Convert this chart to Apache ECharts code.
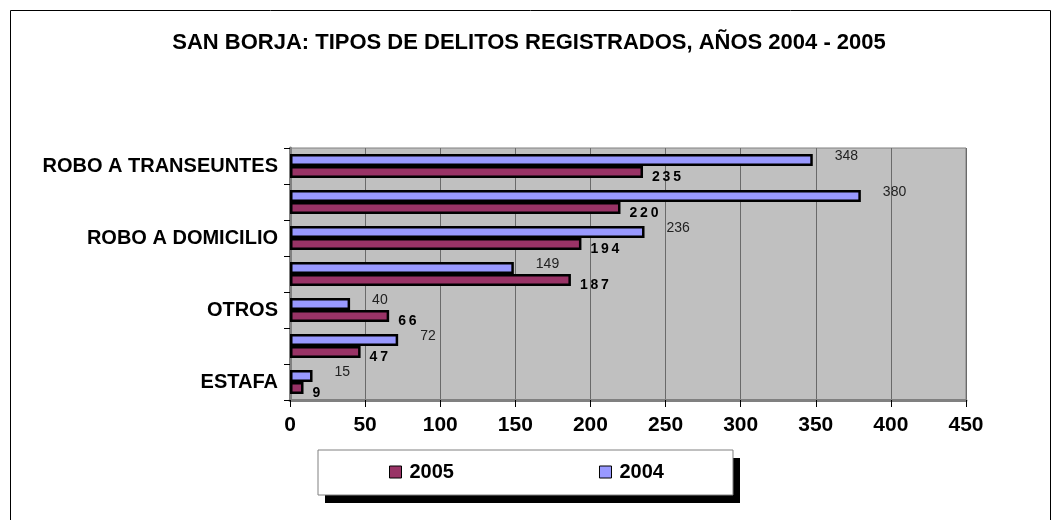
<!DOCTYPE html>
<html>
<head>
<meta charset="utf-8">
<script src="https://cdn.jsdelivr.net/npm/echarts@6.0.0/dist/echarts.min.js"></script>
<style type="text/css">
body{margin: 0; background: #fff;}
#chart{width: 1058px; height: 520px;}
</style>
</head>
<body>
<div id="chart"></div>
<script>
// datos (de arriba hacia abajo)
var categorias = ['ROBO A TRANSEUNTES', 'ROBO DE VEHICULOS', 'ROBO A DOMICILIO', 'HURTO', 'OTROS', 'LESIONES', 'ESTAFA'];
var valores2004 = [348, 380, 236, 149, 40, 72, 15];
var valores2005 = [235, 220, 194, 187, 66, 47, 9];
var ticksX = [0, 50, 100, 150, 200, 250, 300, 350, 400, 450];

var fuente = 'Liberation Sans, Arial, sans-serif';

var chart = echarts.init(document.getElementById('chart'));

var options = {
    backgroundColor: '#fff',
    animation: false,
    title: {
        text: 'SAN BORJA: TIPOS DE DELITOS REGISTRADOS, AÑOS 2004 - 2005',
        left: 'center',
        top: 27,
        textStyle: {fontFamily: fuente, fontSize: 22, fontWeight: 'bold', color: '#000'}
    },
    legend: {
        data: ['2005', '2004'],
        left: 318,
        top: 450,
        orient: 'horizontal',
        padding: [12, 69, 13, 71],
        itemGap: 145,
        itemWidth: 12,
        itemHeight: 12,
        icon: 'rect',
        backgroundColor: '#fff',
        borderColor: '#808080',
        borderWidth: 1,
        z: 10,
        itemStyle: {borderColor: '#000', borderWidth: 1},
        textStyle: {fontFamily: fuente, fontSize: 20, fontWeight: 'bold', color: '#000', padding: [0, 0, 0, 3]}
    },
    grid: {
        left: 290,
        right: 92,
        top: 148,
        bottom: 120,
        show: true,
        backgroundColor: '#c0c0c0',
        borderColor: '#808080',
        borderWidth: 1
    },
    xAxis: {
        type: 'value',
        min: ticksX[0],
        max: ticksX[ticksX.length - 1],
        interval: 50,
        axisLine: {show: true, lineStyle: {color: '#808080', width: 3}},
        axisTick: {show: true, length: 7, lineStyle: {color: '#000'}},
        splitLine: {show: true, lineStyle: {color: '#6a6a6a', width: 1}},
        axisLabel: {
            margin: 15,
            fontFamily: fuente,
            fontSize: 21,
            fontWeight: 'bold',
            color: '#000'
        }
    },
    yAxis: {
        type: 'category',
        inverse: true,
        data: categorias,
        axisLine: {show: true, lineStyle: {color: '#808080', width: 3}},
        axisTick: {show: true, interval: 0, length: 6, lineStyle: {color: '#000'}},
        axisLabel: {
            interval: 1,
            margin: 12,
            fontFamily: fuente,
            fontSize: 20,
            fontWeight: 'bold',
            color: '#000'
        }
    },
    series: [{
        name: '2004',
        type: 'bar',
        data: valores2004,
        barWidth: 12,
        barGap: '0%',
        itemStyle: {color: '#9999ff', borderColor: '#000', borderWidth: 2.5},
        label: {
            show: true,
            position: 'right',
            distance: 22,
            offset: [0, -4],
            fontFamily: fuente,
            fontSize: 14,
            color: '#222'
        }
    }, {
        name: '2005',
        type: 'bar',
        data: valores2005,
        barWidth: 12,
        barGap: '0%',
        itemStyle: {color: '#993366', borderColor: '#000', borderWidth: 2.5},
        label: {
            show: true,
            position: 'right',
            distance: 9,
            offset: [0, 5],
            fontFamily: fuente,
            fontSize: 14,
            fontWeight: 'bold',
            color: '#000',
            formatter: function (p) { return String(p.value).split('').join('\u2009'); }
        }
    }],
    graphic: [{
        // marco exterior
        type: 'rect',
        left: 8,
        top: 8,
        shape: {width: 1040, height: 530},
        style: {fill: null, stroke: '#000', lineWidth: 1},
        silent: true
    }, {
        // sombra de la leyenda
        type: 'rect',
        left: 325,
        top: 458,
        z: 1,
        shape: {width: 415, height: 45},
        style: {fill: '#000'},
        silent: true
    }]
};
chart.setOption(options);
</script>
</body>
</html>
